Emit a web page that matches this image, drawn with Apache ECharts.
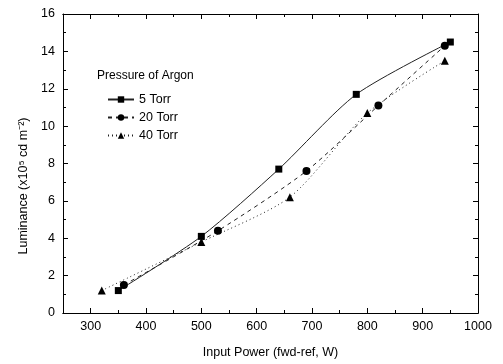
<!DOCTYPE html>
<html>
<head>
<meta charset="utf-8">
<script src="https://cdn.jsdelivr.net/npm/echarts@6/dist/echarts.min.js"></script>
<style>
  html, body { margin: 0; padding: 0; background: #fff; }
  #chart { width: 503px; height: 364px; }
</style>
</head>
<body>
<div id="chart"></div>
<script>
// 数据（读自图片）
var power5 = [350, 500, 640, 780, 950];
var lum5 = [1.2, 4.1, 7.7, 11.7, 14.5];

var power20 = [360, 530, 690, 820, 940];
var lum20 = [1.5, 4.4, 7.6, 11.1, 14.3];

var power40 = [320, 500, 660, 800, 940];
var lum40 = [1.2, 3.8, 6.2, 10.7, 13.5];

var xMajor = [300, 400, 500, 600, 700, 800, 900, 1000];
var xMinor = [250, 350, 450, 550, 650, 750, 850, 950];

var FONT = 'Liberation Sans';

// 配对
var pair = function(xs, ys) {
    var out = [], i;
    for (i = 0; i < xs.length; i++) out.push([xs[i], ys[i]]);
    return out;
};

// 横轴（主/次刻度，上下镜像）
var xAxisBase = {
    type: 'value', min: 250, max: 1000, interval: 50,
    splitLine: { show: false },
    axisLine: { show: true, onZero: false, lineStyle: { color: '#000', width: 1 } }
};
var mkX = function(pos, ticks, len, labels) {
    return Object.assign({}, xAxisBase, {
        position: pos,
        axisTick: { show: true, inside: true, length: len, customValues: ticks, lineStyle: { color: '#000' } },
        axisLabel: labels ? {
            show: true, customValues: xMajor, color: '#000', fontFamily: FONT, fontSize: 12.5, margin: 7,
            formatter: function(v) { return String(v); }
        } : { show: false }
    });
};

var xAxes = [
    mkX('bottom', xMajor, 5, true),
    mkX('bottom', xMinor, 3, false),
    mkX('top', xMajor, 5, false),
    mkX('top', xMinor, 3, false)
];
xAxes[0].name = 'Input Power (fwd-ref, W)';
xAxes[0].nameLocation = 'middle';
xAxes[0].nameGap = 33;
xAxes[0].nameTextStyle = { color: '#000', fontFamily: FONT, fontSize: 12.5 };

// 纵轴
var mkY = function(pos, labels) {
    return {
        type: 'value', position: pos, min: 0, max: 16, interval: 2,
        splitLine: { show: false },
        axisLine: { show: true, onZero: false, lineStyle: { color: '#000', width: 1 } },
        axisTick: { show: true, inside: true, length: 5, lineStyle: { color: '#000' } },
        minorTick: { show: true, splitNumber: 2, length: 3, lineStyle: { color: '#000' } },
        axisLabel: labels ? { show: true, color: '#000', fontFamily: FONT, fontSize: 12.5, margin: 8 } : { show: false }
    };
};
var yAxes = [mkY('left', true), mkY('right', false)];

// 序列
var mkSeries = function(name, data, symbol, size, dash) {
    return {
        name: name, type: 'line', smooth: 0.25,
        data: data, symbol: symbol, symbolSize: size,
        itemStyle: { color: '#000' },
        lineStyle: { color: '#222', width: 1, type: dash }
    };
};

var option = {
    animation: false,
    backgroundColor: '#fff',
    grid: { left: 63, right: 25, top: 14, bottom: 51 },
    xAxis: xAxes,
    yAxis: yAxes,
    legend: {
        orient: 'vertical', left: 102, top: 88, itemGap: 5,
        itemWidth: 26, itemHeight: 8,
        textStyle: { color: '#000', fontFamily: FONT, fontSize: 12.5 },
        data: ['5 Torr', '20 Torr', '40 Torr']
    },
    graphic: [{
        type: 'text', left: 97, top: 70,
        style: { text: 'Pressure of Argon', fill: '#000', font: '12px "Liberation Sans"' }
    }, {
        type: 'text', x: 24, y: 186, rotation: Math.PI / 2,
        style: {
            text: 'Luminance (x10\u2075 cd m\u207B\u00B2)', fill: '#000',
            font: '12.5px "Liberation Sans"', align: 'center', verticalAlign: 'middle'
        }
    }],
    series: [
        mkSeries('5 Torr', pair(power5, lum5), 'rect', 7, 'solid'),
        mkSeries('20 Torr', pair(power20, lum20), 'circle', 8, [4, 4]),
        mkSeries('40 Torr', pair(power40, lum40), 'triangle', 8, [1, 3])
    ]
};

var chart = echarts.init(document.getElementById('chart'), null, { renderer: 'canvas' });
chart.setOption(option);
</script>
</body>
</html>
